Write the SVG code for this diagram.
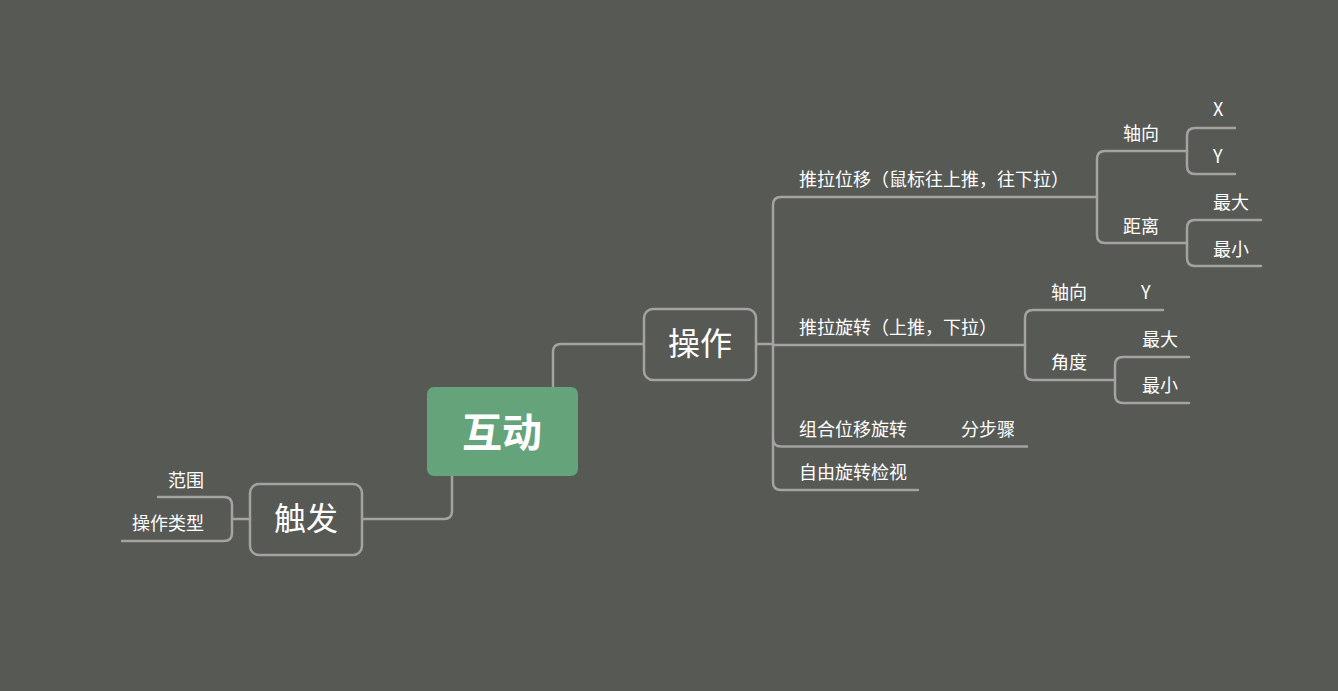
<svg xmlns="http://www.w3.org/2000/svg" width="1338" height="691" viewBox="0 0 1338 691">
<style>
.bg{fill:#575955}
.c{fill:none;stroke:#a3a3a1;stroke-width:2.5;stroke-linecap:round}
.box{fill:#575955;stroke:#a3a3a1;stroke-width:2.5}
.t{font-family:"Noto Sans CJK SC","Liberation Sans",sans-serif;fill:#ffffff;font-size:18px}
.big{font-size:32px;text-anchor:middle}
.root{font-size:40px;font-weight:bold;text-anchor:middle}
</style>
<rect class="bg" x="0" y="0" width="1338" height="691"/>
<g id="connectors">
<path class="c" d="M553,387 V352 Q553,344 561,344 H644"/>
<path class="c" d="M452,476 V511 Q452,519 444,519 H362"/>
<path class="c" d="M250,519 H232 M232,519 V505 Q232,497 224,497 H158 M232,519 V533 Q232,541 224,541 H122"/>
<path class="c" d="M756,344 H773 M773,344 V205 Q773,197 781,197 H1097 M773,345 H1025 M773,344 V438.5 Q773,446.5 781,446.5 H1027 M773,344 V482 Q773,490 781,490 H918"/>
<path class="c" d="M1097,197 V159 Q1097,151 1105,151 H1187 M1097,197 V235 Q1097,243 1105,243 H1187"/>
<path class="c" d="M1187,151 V136 Q1187,128 1195,128 H1235 M1187,151 V166 Q1187,174 1195,174 H1235"/>
<path class="c" d="M1187,243 V228 Q1187,220 1195,220 H1261 M1187,243 V258 Q1187,266 1195,266 H1261"/>
<path class="c" d="M1025,345 V318 Q1025,310 1033,310 H1163 M1025,345 V372 Q1025,380 1033,380 H1115"/>
<path class="c" d="M1115,380 V365 Q1115,357 1123,357 H1189 M1115,380 V395 Q1115,403 1123,403 H1189"/>
</g>
<g id="root">
<rect x="427" y="387" width="151" height="89" rx="7" fill="#65a47a"/>
<text class="t root" x="502" y="447">互动</text>
</g>
<g id="caozuo">
<rect class="box" x="644" y="309" width="112" height="71" rx="9"/>
<text class="t big" x="700" y="355">操作</text>
</g>
<g id="chufa">
<rect class="box" x="250" y="484" width="112" height="71" rx="9"/>
<text class="t big" x="306" y="530">触发</text>
</g>
<g id="fanwei"><text class="t" x="168" y="487">范围</text></g>
<g id="caozuoleixing"><text class="t" x="132" y="530">操作类型</text></g>
<g id="tuilaweiyi"><text class="t" x="799" y="186">推拉位移（鼠标往上推，往下拉）</text></g>
<g id="tuilaxuanzhuan"><text class="t" x="799" y="334">推拉旋转（上推，下拉）</text></g>
<g id="zuhe"><text class="t" x="799" y="436">组合位移旋转</text></g>
<g id="fenbuzhou"><text class="t" x="961" y="436">分步骤</text></g>
<g id="ziyou"><text class="t" x="799" y="479">自由旋转检视</text></g>
<g id="zhouxiang1"><text class="t" x="1123" y="140">轴向</text></g>
<g id="x1"><text class="t" x="1213" y="116">X</text></g>
<g id="y1"><text class="t" x="1213" y="163">Y</text></g>
<g id="juli"><text class="t" x="1123" y="233">距离</text></g>
<g id="zuida1"><text class="t" x="1213" y="209">最大</text></g>
<g id="zuixiao1"><text class="t" x="1213" y="256">最小</text></g>
<g id="zhouxiang2"><text class="t" x="1051" y="299">轴向</text></g>
<g id="y2"><text class="t" x="1141" y="299">Y</text></g>
<g id="jiaodu"><text class="t" x="1051" y="369">角度</text></g>
<g id="zuida2"><text class="t" x="1142" y="346">最大</text></g>
<g id="zuixiao2"><text class="t" x="1142" y="392">最小</text></g>
</svg>
